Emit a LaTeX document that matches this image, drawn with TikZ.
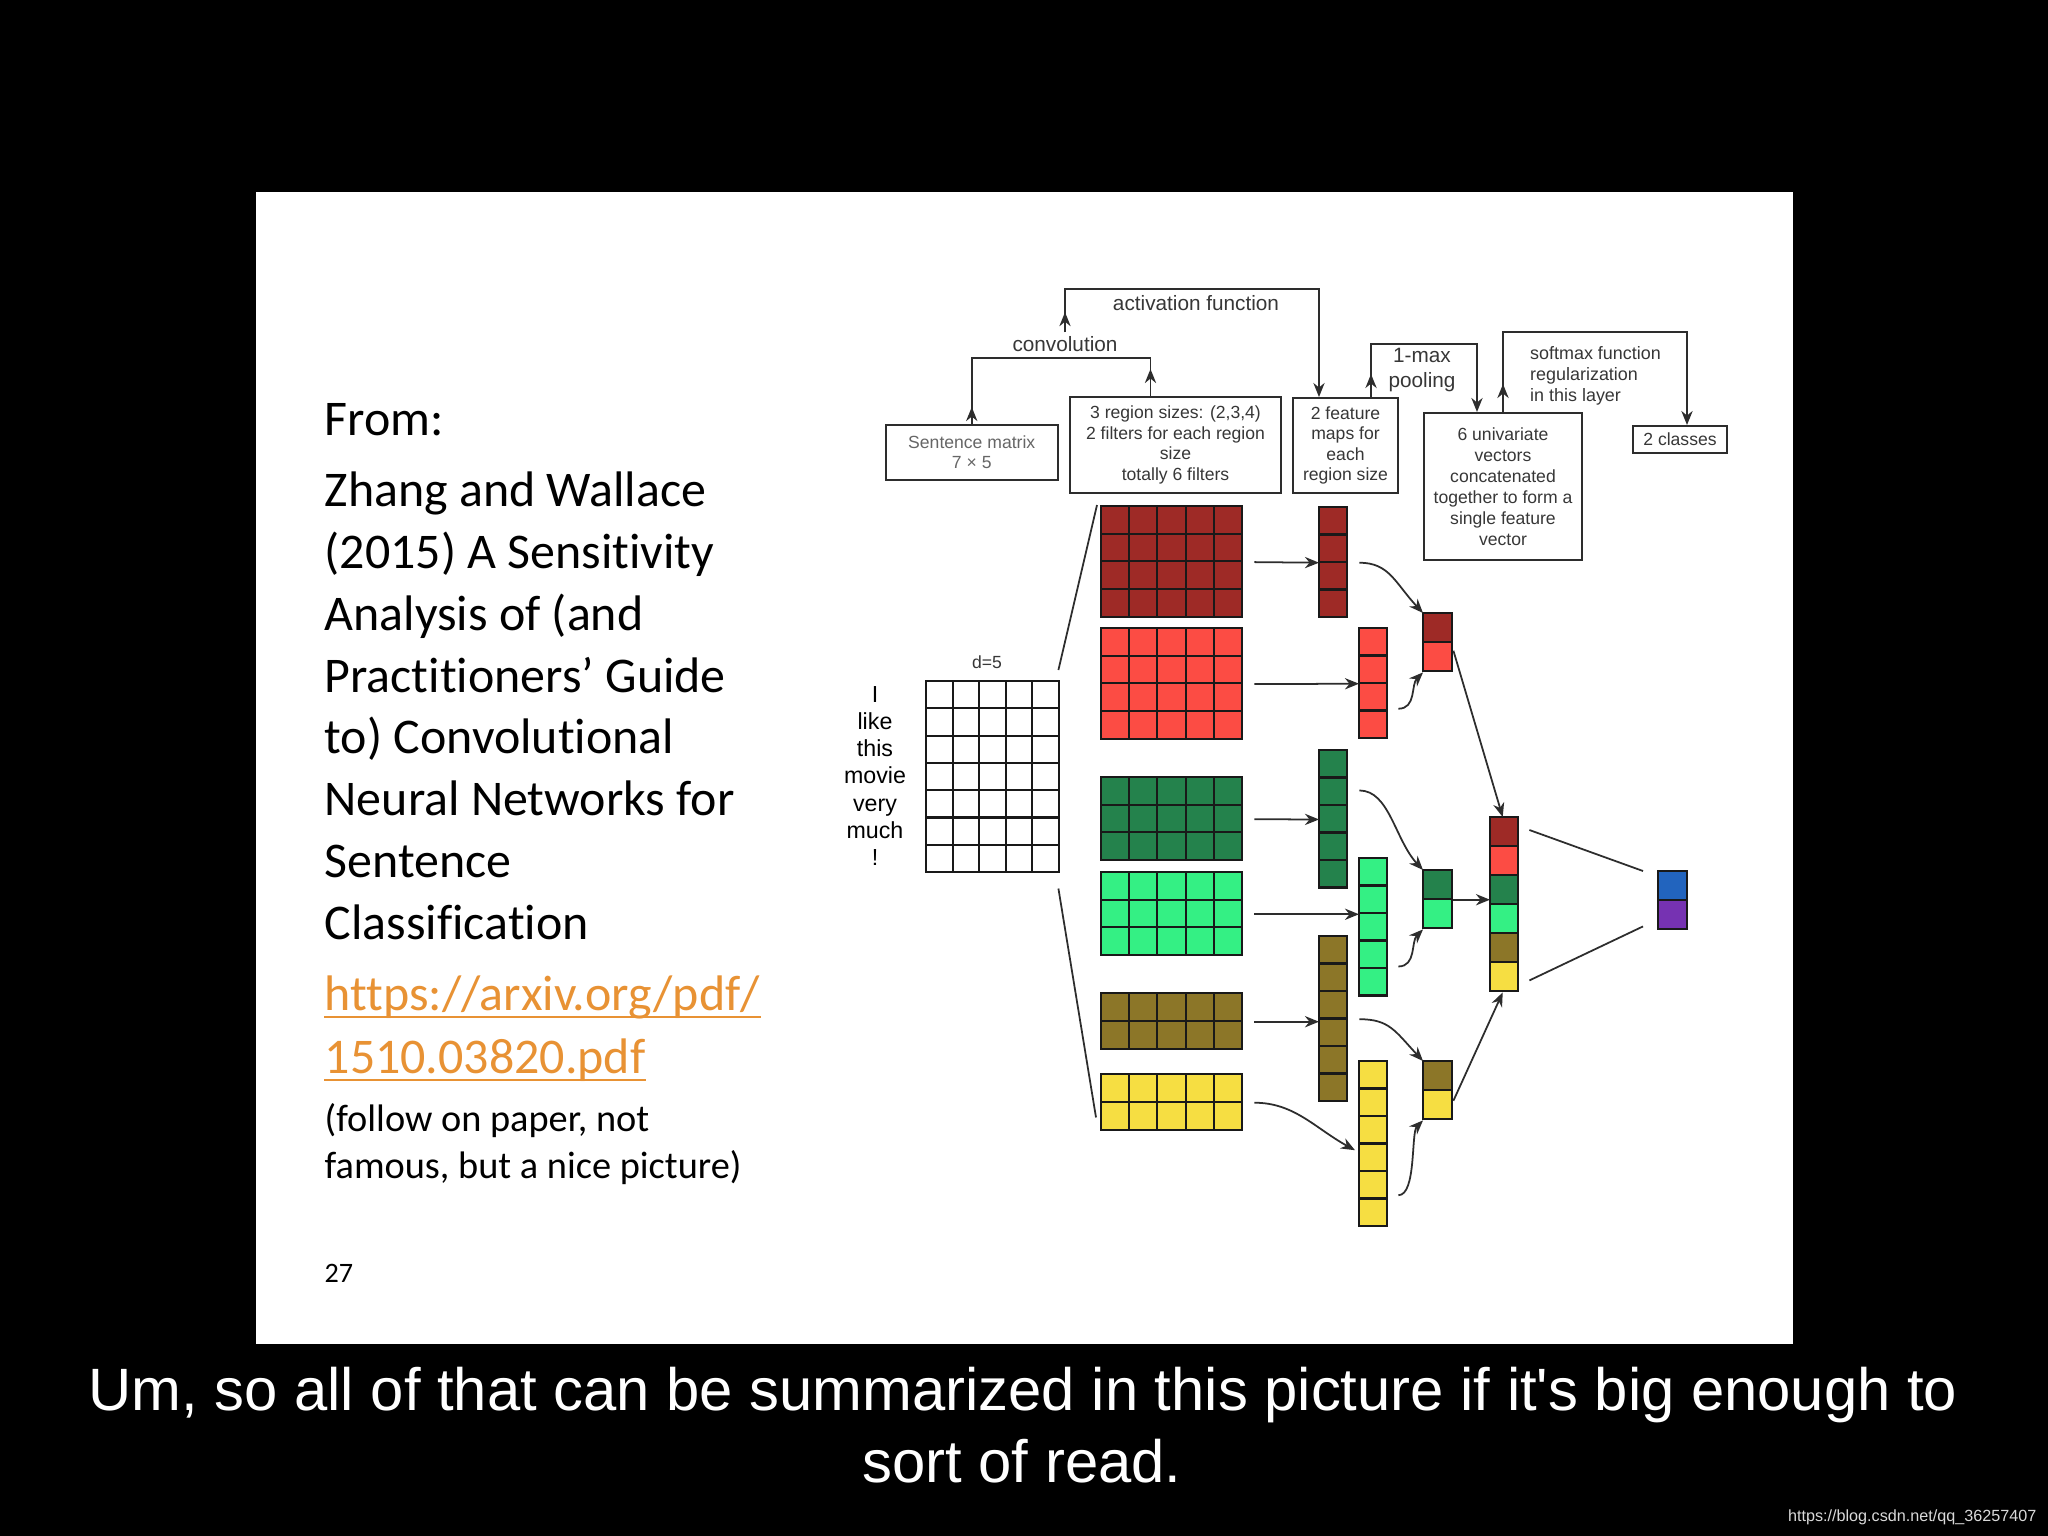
\documentclass[tikz,border=0pt]{standalone}
\usepackage{fontspec}
\setmainfont{Liberation Sans}
\newfontfamily\slidefont{Carlito}[RawFeature={-liga;-clig;-calt;-dlig}]
\newfontfamily\capfont{Liberation Sans}[Ligatures=TeXOff]
\usetikzlibrary{arrows.meta}

\definecolor{mapdred}{RGB}{158,42,38}
\definecolor{mapred}{RGB}{252,76,68}
\definecolor{mapdgreen}{RGB}{36,130,76}
\definecolor{maplgreen}{RGB}{52,240,132}
\definecolor{mapolive}{RGB}{140,118,40}
\definecolor{mapyellow}{RGB}{246,222,66}
\definecolor{outblue}{RGB}{34,100,190}
\definecolor{outpurple}{RGB}{118,50,178}
\definecolor{linkorange}{RGB}{232,146,52}
\definecolor{wiregray}{RGB}{45,45,45}
\definecolor{boxtext}{RGB}{55,55,55}

% block of cells: name, left, top, cols, rows, cell w, cell h, colour
\newcommand{\cnnblock}[8]{%
  \foreach \ci in {1,...,#4}
    \foreach \ri in {1,...,#5}
      \draw[cellsq, fill=#8] ({#2+(\ci-1)*#6},{#3+(\ri-1)*#7}) rectangle ++(#6,#7);
  \node[anchor=north west, inner sep=0pt, minimum width=#4*#6*0.01cm, minimum height=#5*#7*0.01cm] (#1) at (#2,#3) {};
}
% stack of coloured cells: name, left, top, cell w, cell h, rows, colours
\newcommand{\cnnstack}[7]{%
  \foreach \col [count=\idx] in {#7}
    \draw[cellsq, fill=\col] (#2,{#3+(\idx-1)*#5}) rectangle ++(#4,#5);
  \node[anchor=north west, inner sep=0pt, minimum width=#4*0.01cm, minimum height=#6*#5*0.01cm] (#1) at (#2,#3) {};
}

\begin{document}
\begin{tikzpicture}[x=0.01cm, y=-0.01cm,
    cellsq/.style={draw=black!90, line width=0.6pt},
    wire/.style={draw=wiregray, line width=0.5pt},
    flow/.style={wire, -{Stealth[length=4pt,width=3.2pt]}},
    infobox/.style={draw=wiregray, line width=0.55pt, inner sep=0pt, align=center, text=boxtext, font=\fontsize{5}{5.8}\selectfont},
    steplbl/.style={inner sep=1pt, text=boxtext, font=\fontsize{5.9}{7.1}\selectfont, align=center},
    slidetxt/.style={inner sep=0pt, anchor=base west, align=left}]

% screen and slide
\fill[black] (0,0) rectangle (2048,1536);
\fill[white] (256,192) rectangle (1793,1344);

% slide text (multi-line nodes sit on their last baseline)
\node[slidetxt, font=\slidefont\fontsize{14.2}{17.55}\selectfont] (from) at (324,435) {From:};
\node[slidetxt, font=\slidefont\fontsize{14.2}{17.55}\selectfont] (paper) at (324,939)
  {Zhang and Wallace\\(2015) A Sensitivity\\Analysis of (and\\Practitioners’ Guide\\to) Convolutional\\Neural Networks for\\Sentence\\Classification};
\node[slidetxt, text=linkorange, font=\slidefont\fontsize{14.2}{17.55}\selectfont] (url1) at (324,1010) {https://arxiv.org/pdf/};
\node[slidetxt, text=linkorange, font=\slidefont\fontsize{14.2}{17.55}\selectfont] (url2) at (324,1073) {1510.03820.pdf};
\draw[linkorange, line width=0.6pt] ([shift={(0,7)}]url1.base west) -- ([shift={(0,7)}]url1.base east);
\draw[linkorange, line width=0.6pt] ([shift={(0,7)}]url2.base west) -- ([shift={(0,7)}]url2.base east);
\node[slidetxt, font=\slidefont\fontsize{10.9}{13.1}\selectfont] (note) at (324,1178) {(follow on paper, not\\famous, but a nice picture)};
\node[slidetxt, font=\slidefont\fontsize{8}{9.6}\selectfont] (pgno) at (324,1282) {27};

% subtitle
\node[anchor=base, inner sep=0pt, text=white, font=\capfont\fontsize{17}{20}\selectfont] (cap1) at (1023,1410)
  {Um, so all of that can be summarized in this picture if it's big enough to};
\node[anchor=base, inner sep=0pt, text=white, font=\capfont\fontsize{17}{20}\selectfont] (cap2) at (1022,1482) {sort of read.};
\node[anchor=base east, inner sep=0pt, text=white!85!black, font=\fontsize{4.6}{5}\selectfont] (mark) at (2037,1521) {https://blog.csdn.net/qq\_36257407};

% top boxes
\node[infobox, minimum width=1.715cm, minimum height=0.55cm, text=black!60] (smx) at (971.75,452.5) {Sentence matrix\\7 × 5};
\node[infobox, minimum width=2.11cm, minimum height=0.96cm] (flt) at (1175.5,445) {3 region sizes: (2,3,4)\\2 filters for each region\\size\\totally 6 filters};
\node[infobox, minimum width=1.05cm, minimum height=0.95cm] (fmp) at (1345.5,445.5) {2 feature\\maps for\\each\\region size};
\node[infobox, minimum width=1.58cm, minimum height=1.47cm, font=\fontsize{5}{6}\selectfont] (uni) at (1503,486.5) {6 univariate\\vectors\\concatenated\\together to form a\\single feature\\vector};
\node[infobox, minimum width=0.94cm, minimum height=0.27cm] (cls) at (1680,439.5) {2 classes};

% brackets
\node[steplbl] (conv) at (1065,344) {convolution};
\node[steplbl] (actv) at (1196,303) {activation function};
\node[steplbl] (pool) at (1422,370) {1-max\\pooling};
\node[steplbl, anchor=west, align=left, font=\fontsize{5.1}{6}\selectfont] (soft) at (1526,376) {softmax function\\regularization\\in this layer};
\draw[wire] (smx.north) -- ++(0,-66) -| ([xshift=-0.25cm]flt.north);
\draw[flow] (smx.north) -- ++(0,-17);
\draw[flow] ([xshift=-0.25cm]flt.north) -- ++(0,-27);
\draw[flow] (conv.north) -- ++(0,-43) -| ([xshift=-0.265cm]fmp.north);
\draw[flow] (conv.north) -- ++(0,-20);
\draw[flow] ([xshift=0.255cm]fmp.north) -- ++(0,-53) -| ([xshift=-0.26cm]uni.north);
\draw[flow] ([xshift=0.255cm]fmp.north) -- ++(0,-23);
\draw[flow] (uni.north) -- ++(0,-80) -| ([xshift=0.07cm]cls.north);
\draw[flow] (uni.north) -- ++(0,-28);

% sentence matrix
\node[inner sep=0pt, align=center, font=\fontsize{6.6}{7.7}\selectfont] (words) at (875,776) {I\\like\\this\\movie\\very\\much\\!};
\node[inner sep=0pt, text=boxtext, font=\fontsize{5}{6}\selectfont] (dim) at (987,662) {d=5};
\cnnblock{sent}{926}{681}{5}{7}{26.6}{27.3}{white}

% filters
\cnnblock{f1}{1101}{506}{5}{4}{28.2}{27.7}{mapdred}
\cnnblock{f2}{1101}{628}{5}{4}{28.2}{27.7}{mapred}
\cnnblock{f3}{1101}{777}{5}{3}{28.2}{27.7}{mapdgreen}
\cnnblock{f4}{1101}{872}{5}{3}{28.2}{27.7}{maplgreen}
\cnnblock{f5}{1101}{993}{5}{2}{28.2}{28}{mapolive}
\cnnblock{f6}{1101}{1074}{5}{2}{28.2}{28}{mapyellow}
\draw[wire] ([shift={(-2,-11)}]sent.north east) -- ([shift={(-4,-1)}]f1.north west);
\draw[wire] ([shift={(-2,15)}]sent.south east) -- ([shift={(-5,-14)}]f6.south west);

% feature maps
\cnnblock{v1}{1319}{507}{1}{4}{28}{27.5}{mapdred}
\cnnblock{v2}{1359}{628}{1}{4}{28}{27.5}{mapred}
\cnnblock{v3}{1319}{750}{1}{5}{28}{27.5}{mapdgreen}
\cnnblock{v4}{1359}{858}{1}{5}{28}{27.5}{maplgreen}
\cnnblock{v5}{1319}{936}{1}{6}{28}{27.5}{mapolive}
\cnnblock{v6}{1359}{1061}{1}{6}{28}{27.5}{mapyellow}
\draw[flow] ([xshift=0.11cm]f1.east) -- (v1.west);
\draw[flow] ([xshift=0.11cm]f2.east) -- (v2.west);
\draw[flow] ([xshift=0.11cm]f3.east) -- (v3.west);
\draw[flow] ([xshift=0.11cm]f4.east) -- (v4.west |- f4.east);
\draw[flow] ([xshift=0.11cm]f5.east) -- (v5.west |- f5.east);
\draw[flow] ([xshift=0.11cm]f6.east) .. controls +(40,0) and +(-40,-22) .. ([shift={(-4,6)}]v6.west);

% pooled pairs
\cnnstack{p1}{1423}{613}{29}{29}{2}{mapdred,mapred}
\cnnstack{p2}{1423}{870}{29}{29}{2}{mapdgreen,maplgreen}
\cnnstack{p3}{1423}{1061}{29}{29}{2}{mapolive,mapyellow}
\draw[flow] ([xshift=0.11cm]v1.east) .. controls +(30,0) and +(-28,-30) .. (p1.north west);
\draw[flow] ([shift={(10,25)}]v2.east) .. controls +(18,0) and +(-12,12) .. (p1.south west);
\draw[flow] ([shift={(11,-29)}]v3.east) .. controls +(30,0) and +(-28,-30) .. (p2.north west);
\draw[flow] ([shift={(10,39)}]v4.east) .. controls +(18,0) and +(-12,12) .. (p2.south west);
\draw[flow] ([xshift=0.11cm]v5.east) .. controls +(30,0) and +(-28,-30) .. (p3.north west);
\draw[flow] ([shift={(10,51)}]v6.east) .. controls +(18,0) and +(-12,12) .. (p3.south west);

% concatenated vector and output
\cnnstack{cat}{1490}{817}{28}{29}{6}{mapdred,mapred,mapdgreen,maplgreen,mapolive,mapyellow}
\cnnstack{out}{1658}{871}{29}{29}{2}{outblue,outpurple}
\draw[flow] ([shift={(0,8)}]p1.east) -- ([xshift=-0.02cm]cat.north);
\draw[flow] (p2.east) -- (cat.west |- p2.east);
\draw[flow] ([shift={(0,10)}]p3.east) -- ([xshift=-0.02cm]cat.south);
\draw[wire] ([shift={(10,13)}]cat.north east) -- ([shift={(-15,0)}]out.north west);
\draw[wire] ([shift={(10,-12)}]cat.south east) -- ([shift={(-15,-4)}]out.south west);
\end{tikzpicture}
\end{document}
